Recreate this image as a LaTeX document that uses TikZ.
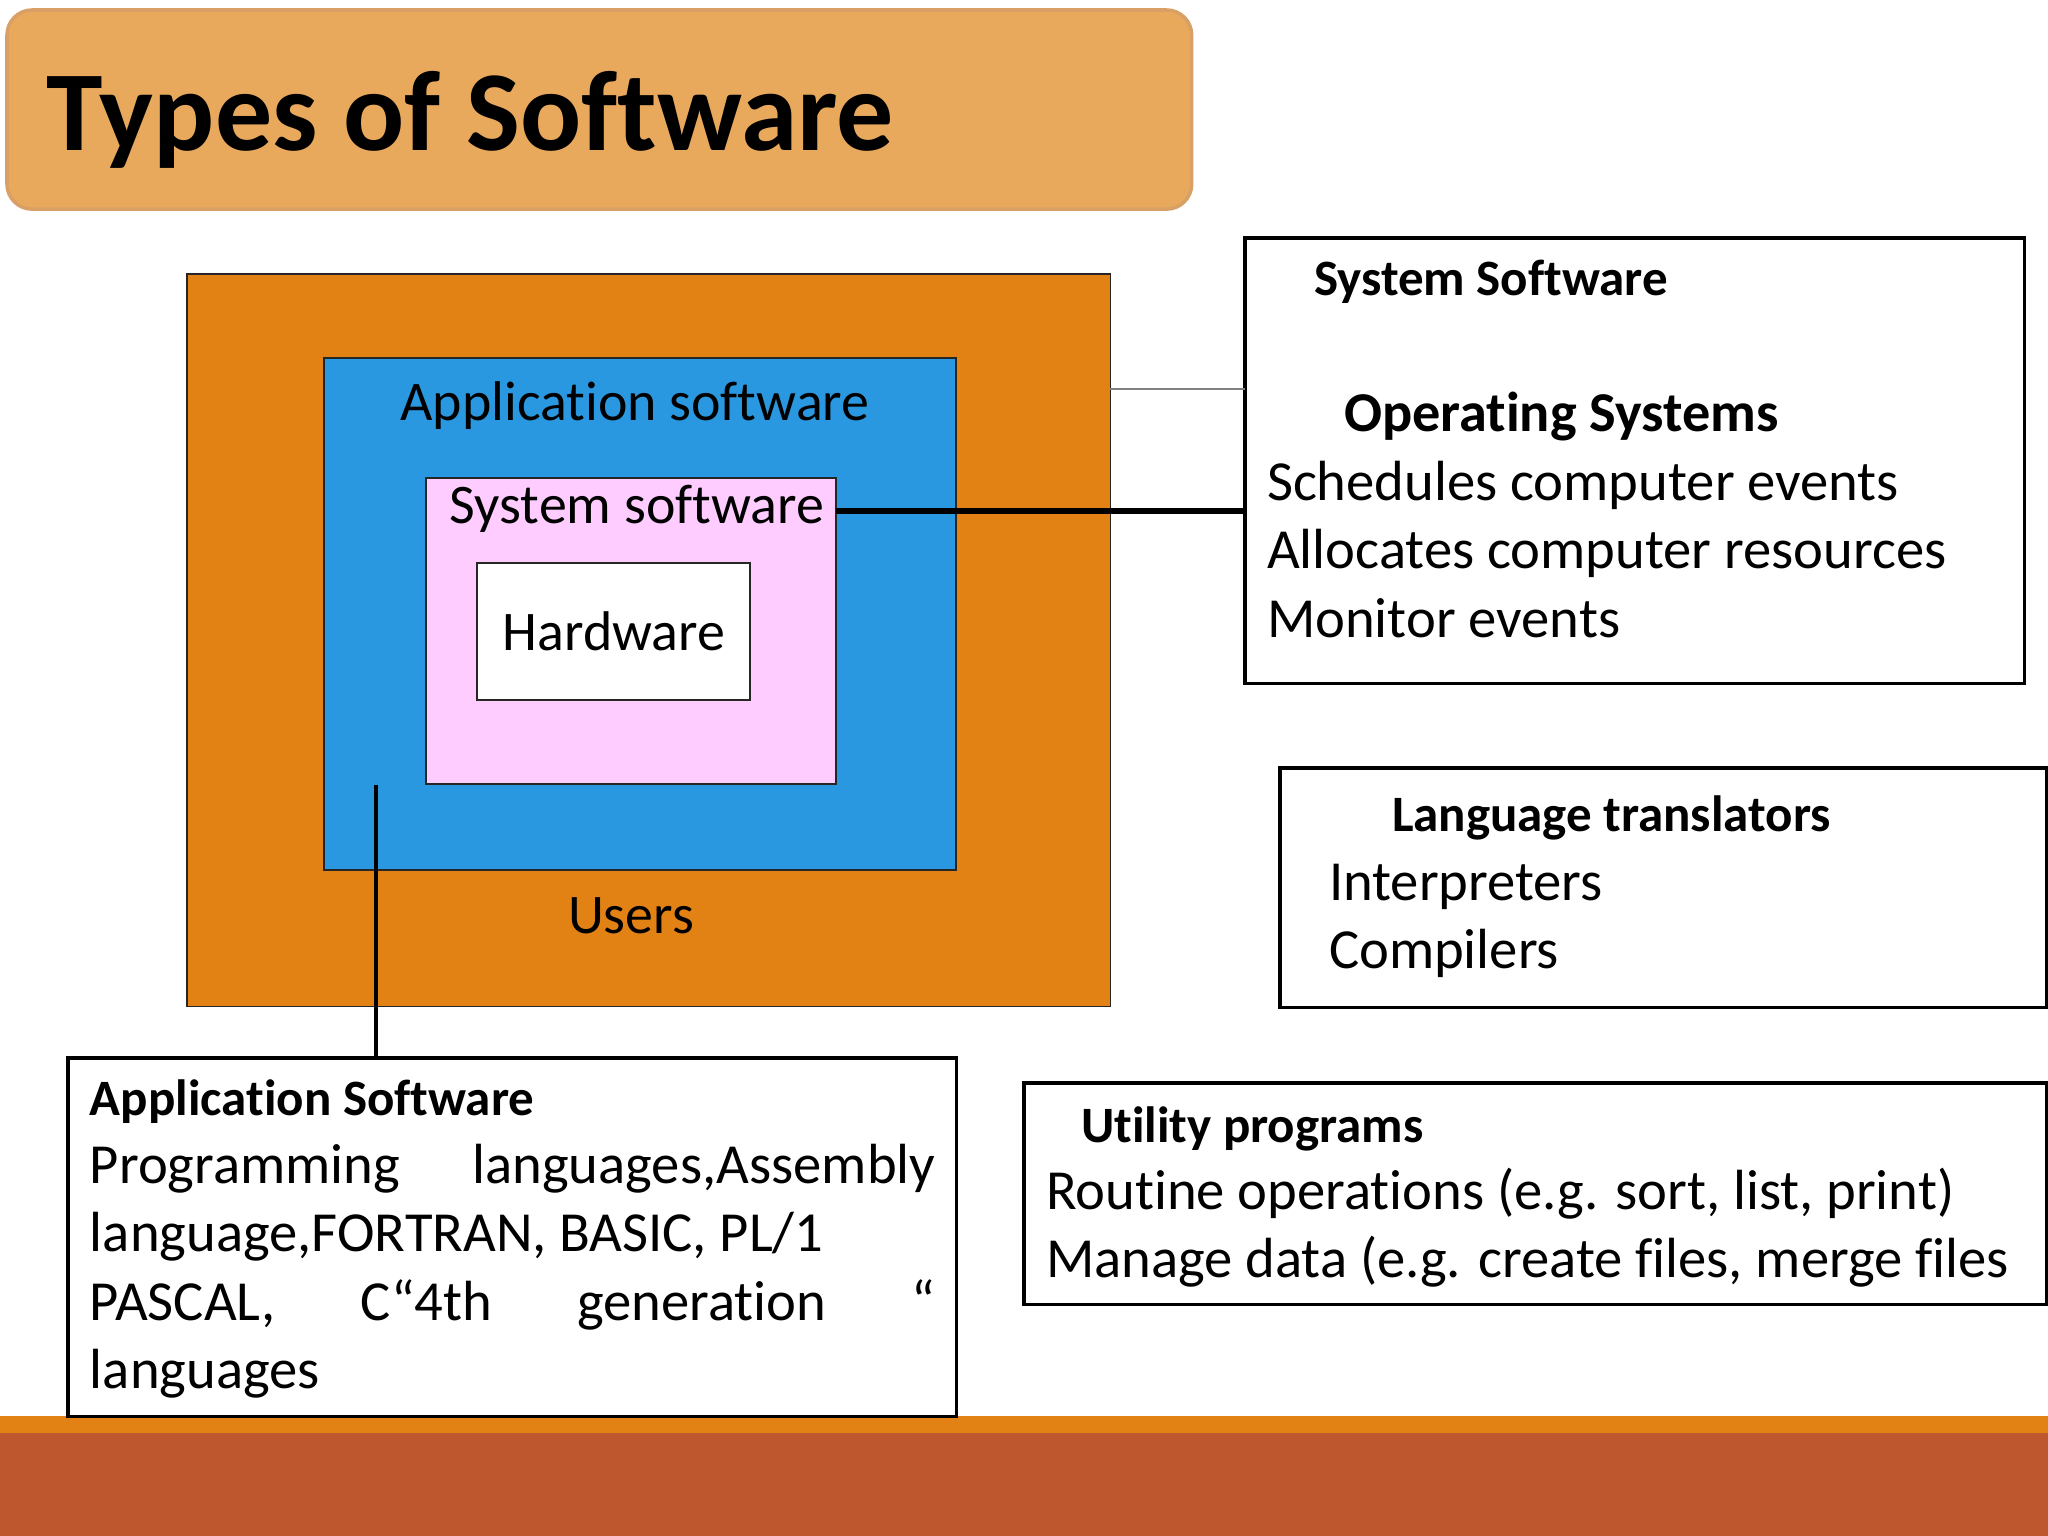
\documentclass[tikz,border=0pt]{standalone}
\usepackage{fontspec}
\setmainfont{Carlito}[Ligatures={NoCommon,NoContextual},Contextuals=NoAlternate]
\usetikzlibrary{positioning}
\definecolor{titlefill}{HTML}{E9A95D}
\definecolor{titleedge}{HTML}{D9A066}
\definecolor{usersfill}{HTML}{E38214}
\definecolor{appfill}{HTML}{2998E0}
\definecolor{sysfill}{HTML}{FFCCFF}
\definecolor{bandfill}{HTML}{BE562E}
\tikzstyle{every node}=[inner sep=0pt,outer sep=0pt]
\tikzstyle{layer}=[draw=black!85,line width=0.5pt,anchor=north west]
\tikzstyle{infobox}=[draw=black,line width=0.9pt,anchor=north west]
\tikzstyle{body}=[anchor=base west,font=\fontsize{16.1}{19.35}\selectfont]
\tikzstyle{head}=[anchor=base west,font=\fontsize{14.5}{17}\selectfont\bfseries]
\tikzstyle{tag}=[anchor=base,font=\fontsize{15.9}{19.35}\selectfont]

\begin{document}
\begin{tikzpicture}[x=0.01cm,y=-0.01cm]
  \useasboundingbox (0,0) rectangle (2048,1536);
  % bottom band
  \fill[usersfill] (0,1416) rectangle (2048,1433);
  \fill[bandfill] (0,1433) rectangle (2048,1536);
  % title
  \node[anchor=north west,fill=titlefill,draw=titleedge,line width=1pt,
    rounded corners=0.25cm,minimum width=11.84cm,minimum height=1.99cm] (title) at (7,10) {};
  \node[anchor=base west,font=\fontsize{32.4}{36}\selectfont\bfseries] (titletext) at (47,150) {Types of Software};
  % nested layers
  \node[layer,fill=usersfill,minimum width=9.23cm,minimum height=7.32cm] (users) at (187,274) {};
  \node[layer,fill=appfill,minimum width=6.32cm,minimum height=5.12cm] (app) at (324,358) {};
  \node[layer,fill=sysfill,minimum width=4.10cm,minimum height=3.06cm] (sys) at (426,478) {};
  \node[layer,fill=white,minimum width=2.73cm,minimum height=1.37cm] (hw) at (477,563) {};
  \node[tag] (applabel) at (635,420) {Application software};
  \node[tag] (syslabel) at (637,523) {System software};
  \node[tag] (hwlabel) at (614,650) {Hardware};
  \node[tag] (userslabel) at (631,933) {Users};
  % boxes on the right and below
  \node[infobox,minimum width=7.79cm,minimum height=4.45cm] (sysbox) at (1245,238) {};
  \node[infobox,minimum width=7.66cm,minimum height=2.39cm] (langbox) at (1280,768) {};
  \node[infobox,minimum width=10.22cm,minimum height=2.21cm] (utilbox) at (1024,1083) {};
  \node[infobox,minimum width=8.88cm,minimum height=3.58cm] (appbox) at (68,1058) {};
  \node[head] (syshead) at (1314,295) {System Software};
  \node[head,font=\fontsize{16}{19}\selectfont\bfseries] (oshead) at (1344,431) {Operating Systems};
  \node[body] (os1) at (1267,500) {Schedules computer events};
  \node[body] (os2) at (1267,568) {Allocates computer resources};
  \node[body] (os3) at (1267,637) {Monitor events};
  \node[head] (langhead) at (1392,831) {Language translators};
  \node[body] (lang1) at (1329,900) {Interpreters};
  \node[body] (lang2) at (1329,968) {Compilers};
  \node[head] (utilhead) at (1081,1142) {Utility programs};
  \node[body] (util1) at (1046,1209) {Routine operations (e.g. sort, list, print)};
  \node[body] (util2) at (1046,1277) {Manage data (e.g. create files, merge files};
  \node[head] (apphead) at (90,1115) {Application Software};
  \node[body] (app1) at (90,1183) {\makebox[8.45cm][s]{Programming languages,Assembly}};
  \node[body] (app2) at (90,1251) {language,FORTRAN, BASIC, PL/1};
  \node[body] (app3) at (90,1320) {\makebox[8.45cm][s]{PASCAL, C“4th generation “}};
  \node[body] (app4) at (90,1388) {languages};
  % connectors
  \coordinate (syslink) at (836,511);
  \coordinate (userlink) at (1110,389);
  \coordinate (applink) at (376,785);
  \draw[gray,line width=0.4pt] (userlink) -- (userlink -| sysbox.west);
  \draw[line width=1.6pt] (syslink) -- (syslink -| sysbox.west);
  \draw[line width=1.2pt] (applink) -- (applink |- appbox.north);
\end{tikzpicture}
\end{document}
